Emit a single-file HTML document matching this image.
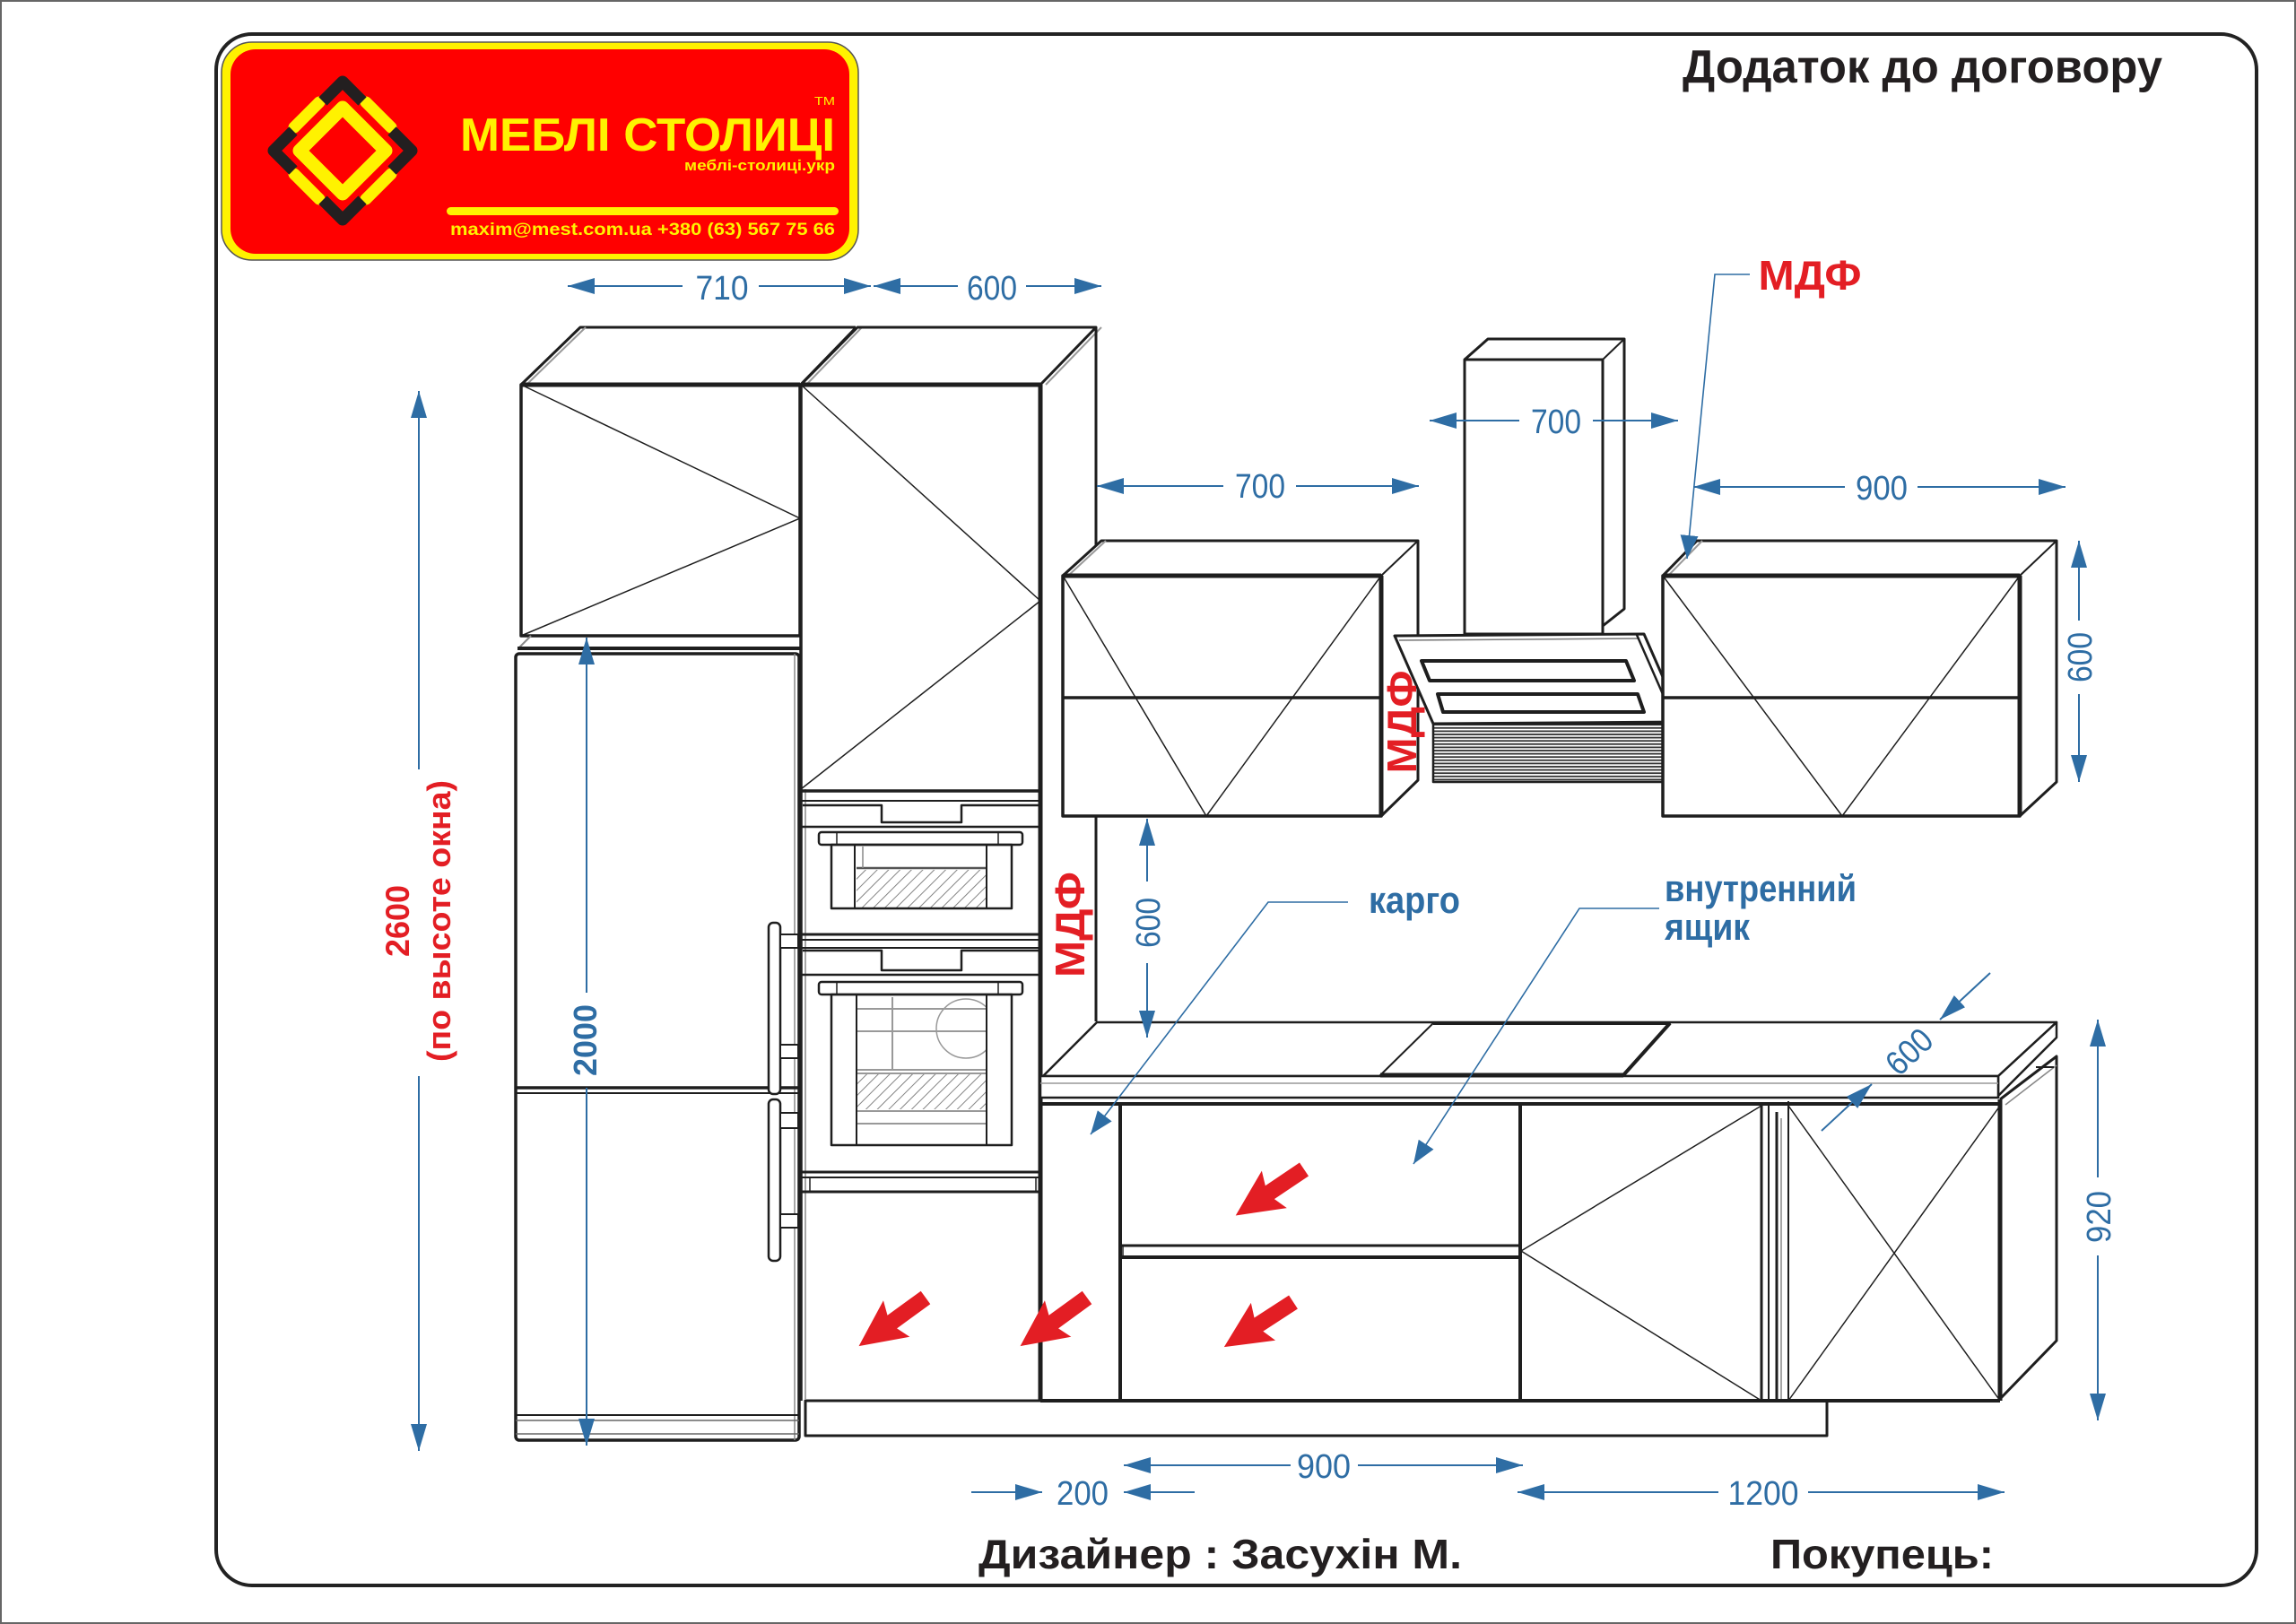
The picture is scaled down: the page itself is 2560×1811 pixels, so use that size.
<!DOCTYPE html>
<html><head><meta charset="utf-8"><style>
html,body{margin:0;padding:0;background:#fff;overflow:hidden}
svg{display:block}
</style></head><body>
<svg xmlns="http://www.w3.org/2000/svg" width="2560" height="1811" viewBox="0 0 2560 1811">
<defs>
<marker id="a" viewBox="0 0 30 18" refX="30" refY="9" markerWidth="30" markerHeight="18" markerUnits="userSpaceOnUse" orient="auto"><path d="M0,0L30,9L0,18z" fill="#2e6da4"/></marker>
<marker id="b" viewBox="0 0 26 20" refX="26" refY="10" markerWidth="26" markerHeight="20" markerUnits="userSpaceOnUse" orient="auto"><path d="M0,0L26,10L0,20z" fill="#2e6da4"/></marker>
<pattern id="h" width="9" height="9" patternUnits="userSpaceOnUse" patternTransform="rotate(45)"><line x1="0" y1="0" x2="0" y2="9" stroke="#777" stroke-width="1.8"/></pattern>
<pattern id="r" width="10" height="3.6" patternUnits="userSpaceOnUse"><rect width="10" height="3.6" fill="#fff"/><line x1="0" y1="1.8" x2="10" y2="1.8" stroke="#333" stroke-width="1.8"/></pattern>
<clipPath id="cw"><rect x="955" y="1112" width="145" height="80"/></clipPath>
</defs>
<rect width="2560" height="1811" fill="#fff"/>
<rect x="1" y="1" width="2558" height="1809" fill="none" stroke="#666" stroke-width="2"/>
<rect x="241" y="38" width="2275" height="1730" rx="40" fill="none" stroke="#222" stroke-width="4"/>

<!-- LOGO -->
<rect x="247" y="47" width="710" height="243" rx="34" fill="#fff200" stroke="#555" stroke-width="1.5"/>
<rect x="257" y="55" width="690" height="228" rx="28" fill="#ff0000"/>
<g fill="none" stroke-linecap="round">
<path d="M382,120 L430,168 L382,216 L334,168 Z" stroke="#fff200" stroke-width="15" stroke-linejoin="round"/>
<g stroke="#fff200" stroke-width="13">
<line x1="328" y1="142" x2="356" y2="114"/>
<line x1="408" y1="114" x2="436" y2="142"/>
<line x1="328" y1="194" x2="356" y2="222"/>
<line x1="408" y1="222" x2="436" y2="194"/>
</g>
<g stroke="#231f20" stroke-width="13" stroke-linecap="butt" stroke-linejoin="round">
<path d="M360,113 L382,91 L404,113"/>
<path d="M327,146 L305,168 L327,190"/>
<path d="M437,146 L459,168 L437,190"/>
<path d="M360,223 L382,245 L404,223"/>
</g>
</g>
<rect x="498" y="231" width="437" height="9" rx="4.5" fill="#fff200"/>
<g font-family="'Liberation Sans', sans-serif" font-weight="bold" fill="#fff200">
<text x="513" y="168" font-size="52" textLength="418" lengthAdjust="spacingAndGlyphs">МЕБЛІ СТОЛИЦІ</text>
<text x="908" y="117" font-size="13" font-weight="normal" textLength="23" lengthAdjust="spacingAndGlyphs">TM</text>
<text x="763" y="190" font-size="17" textLength="168" lengthAdjust="spacingAndGlyphs">меблі-столиці.укр</text>
<text x="502" y="262" font-size="19" textLength="429" lengthAdjust="spacingAndGlyphs">maxim@mest.com.ua  +380 (63) 567 75 66</text>
</g>

<text x="1876" y="92" font-family="'Liberation Sans', sans-serif" font-weight="bold" font-size="52" fill="#231f20" textLength="535" lengthAdjust="spacingAndGlyphs">Додаток до договору</text>

<!-- DRAWING -->
<g fill="none" stroke="#1e1e1e" stroke-linejoin="round">
<!-- tall col 1 -->
<path d="M581,429 L647,365 L954,365" stroke-width="3"/>
<line x1="587" y1="429" x2="653" y2="365" stroke="#999" stroke-width="2"/>
<rect x="581" y="429" width="311" height="280" stroke-width="3.5" fill="#fff"/>
<line x1="581" y1="429" x2="892" y2="429" stroke-width="5"/>
<path d="M581,429 L892,578 L581,709" stroke-width="1.5"/>
<line x1="892" y1="429" x2="954" y2="365" stroke-width="2"/>
<line x1="899" y1="429" x2="961" y2="365" stroke="#999" stroke-width="2"/>
<line x1="592" y1="709" x2="578" y2="723" stroke="#888" stroke-width="2"/>
<line x1="577" y1="723" x2="892" y2="723" stroke-width="4"/>
<rect x="575" y="729" width="316" height="877" rx="4" stroke-width="3.5"/>
<line x1="886" y1="729" x2="886" y2="1606" stroke="#888" stroke-width="1.5"/>
<line x1="575" y1="1213" x2="891" y2="1213" stroke-width="3.5"/>
<line x1="575" y1="1219" x2="891" y2="1219" stroke-width="2"/>
<line x1="575" y1="1578" x2="891" y2="1578" stroke-width="2"/>
<line x1="575" y1="1584" x2="891" y2="1584" stroke-width="1.5" stroke="#666"/>
<line x1="575" y1="1599" x2="891" y2="1599" stroke-width="1.5" stroke="#666"/>
<!-- fridge handles -->
<rect x="857" y="1029" width="13" height="191" rx="5" stroke-width="2.5" fill="#fff"/>
<rect x="857" y="1226" width="13" height="180" rx="5" stroke-width="2.5" fill="#fff"/>
<rect x="870" y="1042" width="20" height="15" stroke-width="2" fill="#fff"/>
<rect x="870" y="1165" width="20" height="15" stroke-width="2" fill="#fff"/>
<rect x="870" y="1241" width="20" height="17" stroke-width="2" fill="#fff"/>
<rect x="870" y="1354" width="20" height="15" stroke-width="2" fill="#fff"/>

<!-- tall col 2 -->
<path d="M893,429 L956,365 L1222,365 L1160,429" stroke-width="3"/>
<line x1="1166" y1="429" x2="1228" y2="365" stroke="#999" stroke-width="2"/>
<line x1="1222" y1="365" x2="1222" y2="1139" stroke-width="3"/>
<line x1="893" y1="429" x2="893" y2="1562" stroke-width="3.5"/>
<line x1="898" y1="880" x2="898" y2="1560" stroke="#888" stroke-width="1.5"/>
<line x1="1160" y1="429" x2="1160" y2="1562" stroke-width="5"/>
<line x1="893" y1="429" x2="1160" y2="429" stroke-width="5"/>
<path d="M893,429 L1160,670 L893,880" stroke-width="1.5"/>
<line x1="893" y1="882" x2="1160" y2="882" stroke-width="3.5"/>
<line x1="893" y1="893" x2="1160" y2="893" stroke-width="2"/>
<!-- upper oven -->
<path d="M895,898 L983,898 L983,917 L1072,917 L1072,898 L1158,898" stroke-width="2.5"/>
<line x1="893" y1="922" x2="1160" y2="922" stroke-width="2.5"/>
<rect x="913" y="928" width="227" height="14" rx="3" stroke-width="2.5"/>
<line x1="933" y1="928" x2="933" y2="942" stroke-width="1.5"/>
<line x1="1113" y1="928" x2="1113" y2="942" stroke-width="1.5"/>
<rect x="955" y="970" width="145" height="42" fill="url(#h)" stroke="none"/>
<line x1="955" y1="968" x2="1100" y2="968" stroke="#555" stroke-width="2.5"/>
<line x1="962" y1="944" x2="962" y2="968" stroke="#888" stroke-width="1.5"/>
<rect x="927" y="942" width="201" height="71" stroke-width="2.5"/>
<line x1="953" y1="942" x2="953" y2="1013" stroke-width="2"/>
<line x1="1100" y1="942" x2="1100" y2="1013" stroke-width="2"/>
<line x1="893" y1="1042" x2="1160" y2="1042" stroke-width="3"/>
<line x1="893" y1="1048" x2="1160" y2="1048" stroke-width="2"/>
<line x1="893" y1="1057" x2="1160" y2="1057" stroke-width="2"/>
<!-- lower oven -->
<path d="M895,1060 L983,1060 L983,1082 L1072,1082 L1072,1060 L1158,1060" stroke-width="2.5"/>
<line x1="893" y1="1087" x2="1160" y2="1087" stroke-width="2.5"/>
<rect x="913" y="1095" width="227" height="14" rx="3" stroke-width="2.5"/>
<line x1="933" y1="1095" x2="933" y2="1109" stroke-width="1.5"/>
<line x1="1113" y1="1095" x2="1113" y2="1109" stroke-width="1.5"/>
<rect x="955" y="1197" width="145" height="40" fill="url(#h)" stroke="none"/>
<g stroke="#999" stroke-width="2">
<line x1="955" y1="1125" x2="1100" y2="1125"/>
<line x1="955" y1="1150" x2="1100" y2="1150"/>
<line x1="955" y1="1193" x2="1100" y2="1193"/>
<line x1="955" y1="1197" x2="1100" y2="1197"/>
<line x1="955" y1="1239" x2="1100" y2="1239"/>
<line x1="955" y1="1253" x2="1100" y2="1253"/>
<line x1="995" y1="1112" x2="995" y2="1193"/>
<circle cx="1077" cy="1147" r="33" clip-path="url(#cw)" stroke-width="1.5"/>
</g>
<rect x="927" y="1109" width="201" height="168" stroke-width="2.5"/>
<line x1="955" y1="1109" x2="955" y2="1277" stroke-width="2"/>
<line x1="1100" y1="1109" x2="1100" y2="1277" stroke-width="2"/>
<line x1="893" y1="1307" x2="1160" y2="1307" stroke-width="3"/>
<line x1="893" y1="1313" x2="1160" y2="1313" stroke-width="2"/>
<line x1="893" y1="1329" x2="1160" y2="1329" stroke-width="3"/>
<line x1="903" y1="1313" x2="903" y2="1329" stroke-width="1.5"/>
<line x1="1155" y1="1313" x2="1155" y2="1329" stroke-width="1.5"/>

<!-- wall cabinet 1 -->
<path d="M1185,642 L1228,603 L1581,603 L1581,870 L1540,910 L1540,642 Z" fill="#fff" stroke-width="3"/>
<line x1="1540" y1="642" x2="1581" y2="603" stroke-width="2"/>
<line x1="1191" y1="642" x2="1233" y2="603" stroke="#999" stroke-width="2"/>
<rect x="1185" y="642" width="355" height="268" fill="#fff" stroke-width="3.5"/>
<line x1="1185" y1="642" x2="1540" y2="642" stroke-width="5"/>
<line x1="1540" y1="642" x2="1540" y2="910" stroke-width="5"/>
<line x1="1185" y1="778" x2="1540" y2="778" stroke-width="3.5"/>
<path d="M1185,642 L1345,910 L1540,642" stroke-width="1.5"/>

<!-- hood -->
<path d="M1633,401 L1659,378 L1811,378 L1811,679 L1787,698" stroke-width="3"/>
<line x1="1787" y1="401" x2="1811" y2="378" stroke-width="2"/>
<rect x="1633" y="401" width="154" height="306" fill="#fff" stroke-width="3"/>
<polygon points="1555,709 1833,707 1876,805 1598,807" fill="#fff" stroke-width="3"/>
<line x1="1560" y1="714" x2="1828" y2="712" stroke="#777" stroke-width="1.5"/>
<line x1="1825" y1="708" x2="1868" y2="806" stroke-width="2.5"/>
<path d="M1585,737 L1813,737 L1822,759 L1594,759 Z" stroke-width="4"/>
<path d="M1603,774 L1826,774 L1833,794 L1609,794 Z" stroke-width="4"/>
<rect x="1598" y="807" width="258" height="65" fill="url(#r)" stroke-width="2.5"/>

<!-- wall cabinet 2 -->
<path d="M1854,642 L1892,603 L2293,603 L2293,872 L2252,910 L2252,642 Z" fill="#fff" stroke-width="3"/>
<line x1="2252" y1="642" x2="2293" y2="603" stroke-width="2"/>
<line x1="1860" y1="642" x2="1898" y2="603" stroke="#999" stroke-width="2"/>
<rect x="1854" y="642" width="398" height="268" fill="#fff" stroke-width="3.5"/>
<line x1="1854" y1="642" x2="2252" y2="642" stroke-width="5"/>
<line x1="2252" y1="642" x2="2252" y2="910" stroke-width="5"/>
<line x1="1854" y1="778" x2="2252" y2="778" stroke-width="3.5"/>
<path d="M1854,642 L2054,910 L2252,642" stroke-width="1.5"/>

<!-- countertop -->
<polygon points="1163,1200 2228,1200 2293,1140 1223,1140" fill="#fff" stroke-width="2.5"/>
<polygon points="2228,1200 2293,1140 2293,1157 2228,1222" fill="#fff" stroke-width="2.5"/>
<rect x="1160" y="1200" width="1068" height="24" fill="#fff" stroke-width="2.5"/>
<line x1="1160" y1="1208" x2="2228" y2="1208" stroke="#999" stroke-width="1.5"/>
<polygon points="1598,1141 1862,1141 1810,1199 1539,1199" fill="#fff" stroke-width="2"/>
<line x1="1598" y1="1141" x2="1862" y2="1141" stroke-width="4"/>
<line x1="1539" y1="1199" x2="1810" y2="1199" stroke-width="5"/>
<line x1="1810" y1="1199" x2="1862" y2="1141" stroke-width="4"/>

<!-- base cabinets -->
<line x1="1160" y1="1231" x2="2230" y2="1231" stroke-width="4"/>
<line x1="1249" y1="1231" x2="1249" y2="1562" stroke-width="4"/>
<line x1="1695" y1="1231" x2="1695" y2="1562" stroke-width="4"/>
<line x1="1249" y1="1389" x2="1695" y2="1389" stroke-width="3"/>
<line x1="1249" y1="1402" x2="1695" y2="1402" stroke-width="4"/>
<line x1="1252" y1="1389" x2="1252" y2="1402" stroke-width="1.5"/>
<path d="M1964,1233 L1696,1395 L1964,1562" stroke-width="1.5"/>
<line x1="1964" y1="1231" x2="1964" y2="1562" stroke-width="3"/>
<line x1="1972" y1="1231" x2="1972" y2="1562" stroke-width="2"/>
<line x1="1981" y1="1240" x2="1981" y2="1562" stroke-width="3"/>
<line x1="1986" y1="1247" x2="1986" y2="1562" stroke="#888" stroke-width="1.5"/>
<line x1="1994" y1="1228" x2="1994" y2="1562" stroke-width="2"/>
<line x1="2230" y1="1226" x2="2230" y2="1562" stroke-width="5"/>
<path d="M1994,1233 L2230,1562 M2230,1233 L1994,1562" stroke-width="1.5"/>
<path d="M2230,1226 L2293,1178 L2293,1495 L2230,1560" stroke-width="3"/>
<line x1="2236" y1="1232" x2="2293" y2="1188" stroke="#888" stroke-width="1.5"/>
<line x1="2270" y1="1190" x2="2290" y2="1190" stroke-width="2"/>
<line x1="1160" y1="1562" x2="2230" y2="1562" stroke-width="4"/>
<rect x="898" y="1562" width="1139" height="39" stroke-width="3"/>
</g>

<!-- red arrows -->
<g fill="#e31e24">
<polygon points="0,-9 46,-9 40,-25 92,0 40,25 46,9 0,9" transform="translate(1454,1304) rotate(146)"/>
<polygon points="0,-9 46,-9 40,-25 92,0 40,25 46,9 0,9" transform="translate(1442,1452) rotate(147)"/>
<polygon points="0,-9 46,-9 40,-25 92,0 40,25 46,9 0,9" transform="translate(1032,1447) rotate(144)"/>
<polygon points="0,-9 46,-9 40,-25 92,0 40,25 46,9 0,9" transform="translate(1212,1447) rotate(144)"/>
</g>

<!-- dimension lines -->
<g stroke="#2e6da4" stroke-width="2" fill="none">
<line x1="761" y1="319" x2="633" y2="319" marker-end="url(#a)"/>
<line x1="846" y1="319" x2="971" y2="319" marker-end="url(#a)"/>
<line x1="1068" y1="319" x2="974" y2="319" marker-end="url(#a)"/>
<line x1="1144" y1="319" x2="1228" y2="319" marker-end="url(#a)"/>
<line x1="1364" y1="542" x2="1223" y2="542" marker-end="url(#a)"/>
<line x1="1445" y1="542" x2="1582" y2="542" marker-end="url(#a)"/>
<line x1="1694" y1="469" x2="1594" y2="469" marker-end="url(#a)"/>
<line x1="1776" y1="469" x2="1871" y2="469" marker-end="url(#a)"/>
<line x1="2057" y1="543" x2="1888" y2="543" marker-end="url(#a)"/>
<line x1="2138" y1="543" x2="2303" y2="543" marker-end="url(#a)"/>
<line x1="1439" y1="1634" x2="1253" y2="1634" marker-end="url(#a)"/>
<line x1="1514" y1="1634" x2="1698" y2="1634" marker-end="url(#a)"/>
<line x1="1083" y1="1664" x2="1162" y2="1664" marker-end="url(#a)"/>
<line x1="1332" y1="1664" x2="1253" y2="1664" marker-end="url(#a)"/>
<line x1="1916" y1="1664" x2="1692" y2="1664" marker-end="url(#a)"/>
<line x1="2016" y1="1664" x2="2235" y2="1664" marker-end="url(#a)"/>
<line x1="467" y1="858" x2="467" y2="436" marker-end="url(#a)"/>
<line x1="467" y1="1200" x2="467" y2="1618" marker-end="url(#a)"/>
<line x1="654" y1="1107" x2="654" y2="711" marker-end="url(#a)"/>
<line x1="654" y1="1213" x2="654" y2="1612" marker-end="url(#a)"/>
<line x1="1279" y1="983" x2="1279" y2="913" marker-end="url(#a)"/>
<line x1="1279" y1="1074" x2="1279" y2="1157" marker-end="url(#a)"/>
<line x1="2318" y1="692" x2="2318" y2="603" marker-end="url(#a)"/>
<line x1="2318" y1="774" x2="2318" y2="872" marker-end="url(#a)"/>
<line x1="2339" y1="1313" x2="2339" y2="1137" marker-end="url(#a)"/>
<line x1="2339" y1="1400" x2="2339" y2="1584" marker-end="url(#a)"/>
<line x1="2219" y1="1085" x2="2163" y2="1137" marker-end="url(#a)"/>
<line x1="2031" y1="1261" x2="2087" y2="1209" marker-end="url(#a)"/>
<!-- leaders -->
<path d="M1503,1006 L1414,1006 L1216,1265" stroke-width="1.6" marker-end="url(#b)"/>
<path d="M1850,1013 L1761,1013 L1576,1298" stroke-width="1.6" marker-end="url(#b)"/>
<path d="M1951,306 L1912,306 L1881,623" stroke-width="1.6" marker-end="url(#b)"/>
</g>

<!-- dimension texts -->
<g font-family="'Liberation Sans', sans-serif" font-size="38" fill="#2e6da4" text-anchor="middle">
<text x="805" y="334" textLength="59" lengthAdjust="spacingAndGlyphs">710</text>
<text x="1106" y="334" textLength="56" lengthAdjust="spacingAndGlyphs">600</text>
<text x="1405" y="555" textLength="56" lengthAdjust="spacingAndGlyphs">700</text>
<text x="1735" y="483" textLength="56" lengthAdjust="spacingAndGlyphs">700</text>
<text x="2098" y="557" textLength="58" lengthAdjust="spacingAndGlyphs">900</text>
<text x="1476" y="1648" textLength="60" lengthAdjust="spacingAndGlyphs">900</text>
<text x="1207" y="1678" textLength="58" lengthAdjust="spacingAndGlyphs">200</text>
<text x="1966" y="1678" textLength="79" lengthAdjust="spacingAndGlyphs">1200</text>
<text x="0" y="14" transform="translate(2318,733) rotate(-90)" textLength="56" lengthAdjust="spacingAndGlyphs">600</text>
<text x="0" y="14" transform="translate(1279,1029) rotate(-90)" textLength="56" lengthAdjust="spacingAndGlyphs">600</text>
<text x="0" y="14" transform="translate(2339,1357) rotate(-90)" textLength="58" lengthAdjust="spacingAndGlyphs">920</text>
<text x="0" y="14" transform="translate(2128,1172) rotate(-43)" textLength="56" lengthAdjust="spacingAndGlyphs">600</text>
<text x="0" y="13" transform="translate(652,1160) rotate(-90)" font-weight="bold" font-size="36" textLength="80" lengthAdjust="spacingAndGlyphs">2000</text>
</g>

<g font-family="'Liberation Sans', sans-serif" font-weight="bold" fill="#2e6da4">
<text x="1526" y="1018" font-size="42" textLength="102" lengthAdjust="spacingAndGlyphs">карго</text>
<text x="1856" y="1005" font-size="42" textLength="214" lengthAdjust="spacingAndGlyphs">внутренний</text>
<text x="1856" y="1048" font-size="42" textLength="95" lengthAdjust="spacingAndGlyphs">ящик</text>
</g>

<g font-family="'Liberation Sans', sans-serif" font-weight="bold" fill="#e31e24" text-anchor="middle">
<text x="2018" y="323" font-size="46" textLength="115" lengthAdjust="spacingAndGlyphs">МДФ</text>
<text x="0" y="16" transform="translate(1563,805) rotate(-90)" font-size="46" textLength="115" lengthAdjust="spacingAndGlyphs">МДФ</text>
<text x="0" y="16" transform="translate(1193,1031) rotate(-90)" font-size="46" textLength="118" lengthAdjust="spacingAndGlyphs">МДФ</text>
<text x="0" y="13" transform="translate(443,1027) rotate(-90)" font-size="37" textLength="80" lengthAdjust="spacingAndGlyphs">2600</text>
<text x="0" y="12" transform="translate(490,1027) rotate(-90)" font-size="36" textLength="314" lengthAdjust="spacingAndGlyphs">(по высоте окна)</text>
</g>

<g font-family="'Liberation Sans', sans-serif" font-weight="bold" fill="#231f20" font-size="46">
<text x="1091" y="1749" textLength="539" lengthAdjust="spacingAndGlyphs">Дизайнер : Засухін М.</text>
<text x="1974" y="1749" textLength="249" lengthAdjust="spacingAndGlyphs">Покупець:</text>
</g>
</svg>
</body></html>
